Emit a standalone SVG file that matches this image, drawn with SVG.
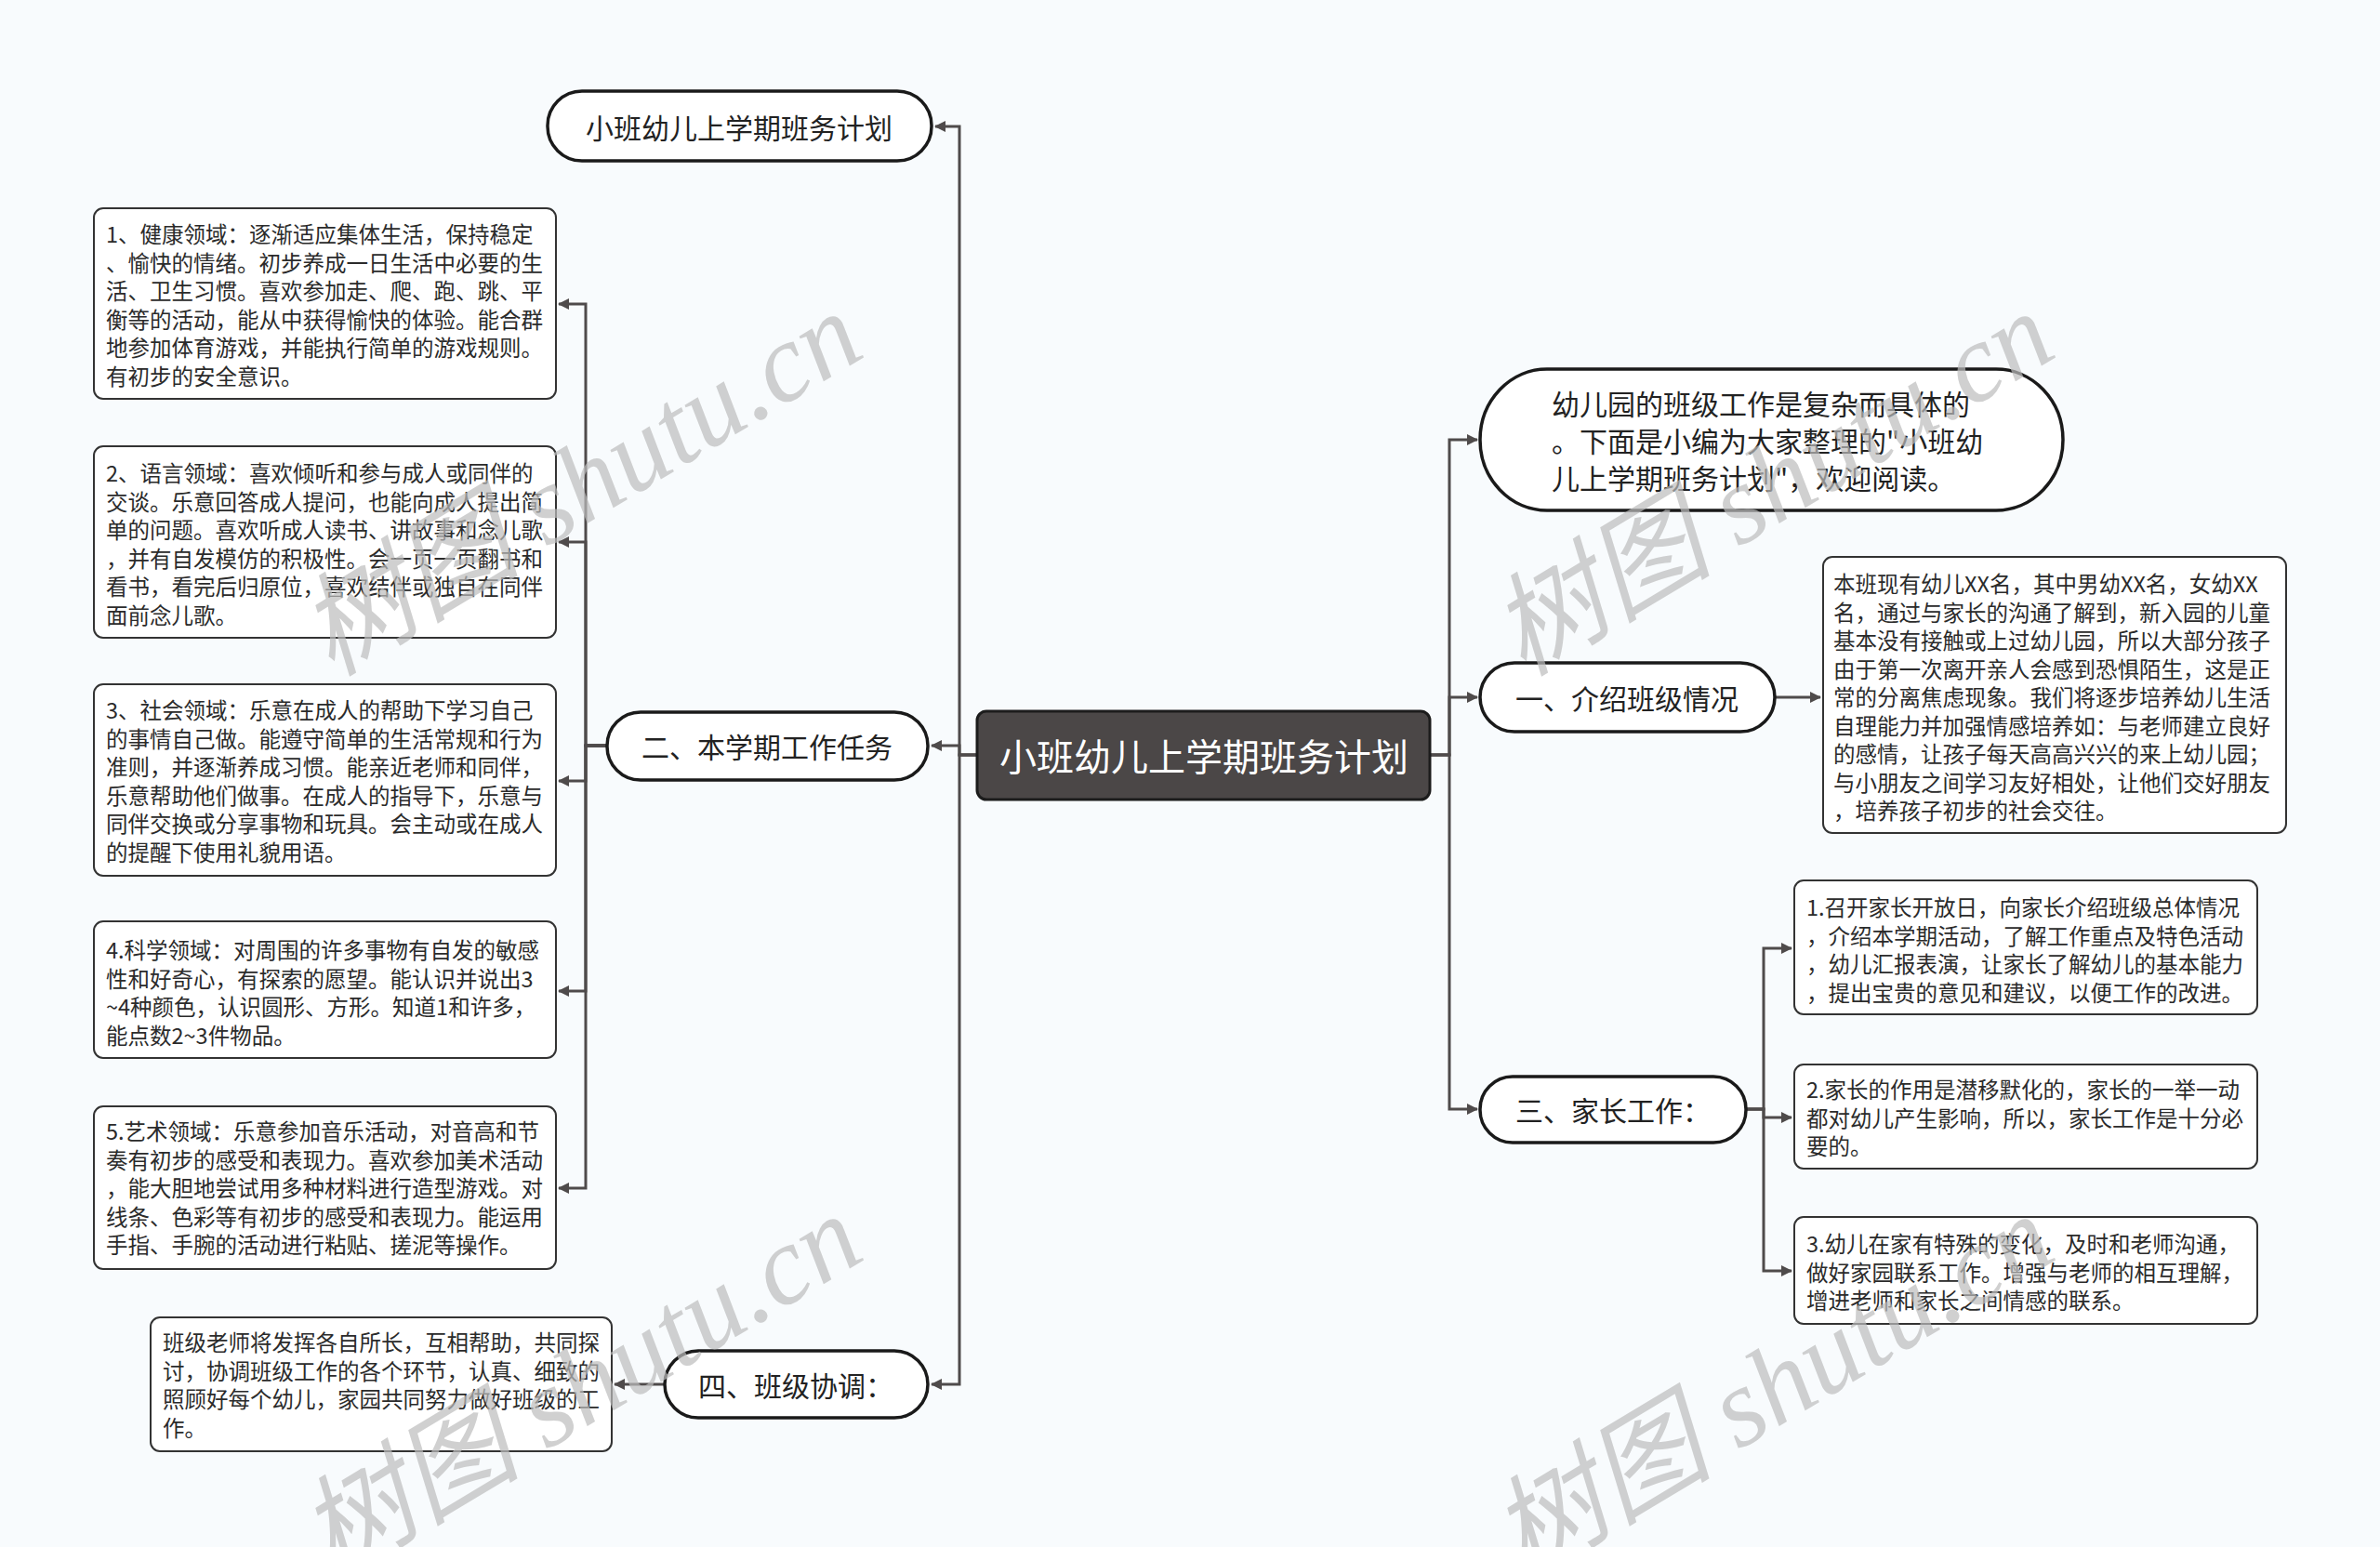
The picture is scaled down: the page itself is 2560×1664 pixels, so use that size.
<svg xmlns="http://www.w3.org/2000/svg" width="2560" height="1664" viewBox="0 0 2560 1664">
<defs>
<marker id="arr" viewBox="0 0 12 12" refX="11" refY="6" markerWidth="12" markerHeight="12" markerUnits="userSpaceOnUse" orient="auto">
<path d="M0,0 L12,6 L0,12 z" fill="#4f4b4b"/>
</marker>
<style>
.conn{fill:none;stroke:#4f4b4b;stroke-width:3}
.box{fill:#fff;stroke:#333;stroke-width:2}
.pill{fill:#fff;stroke:#1a1a1a;stroke-width:3.5}
.rootbox{fill:#4b4747;stroke:#1c1c1c;stroke-width:3}
text{font-family:"Noto Sans CJK SC","Noto Sans",sans-serif;dominant-baseline:central}
.tl{font-size:23.5px;fill:#2b2b2b}
.tp{font-size:30px;fill:#222}
.tr{font-size:40px;fill:#fff}
.wm{font-family:"Liberation Serif","Noto Sans CJK SC",serif;font-style:italic;font-size:120px;fill:#bdbdbd;opacity:0.7;dominant-baseline:auto}
</style>
</defs>
<rect width="2560" height="1664" fill="#f8fbfd"/>

<g id="connectors">
<path class="conn" marker-end="url(#arr)" d="M1051 812 H1032 V136 H1006"/>
<path class="conn" marker-end="url(#arr)" d="M1051 812 H1032 V802 H1002"/>
<path class="conn" marker-end="url(#arr)" d="M1051 812 H1032 V1489 H1002"/>
<path class="conn" marker-end="url(#arr)" d="M653 802 H630 V327 H601"/>
<path class="conn" marker-end="url(#arr)" d="M653 802 H630 V583 H601"/>
<path class="conn" marker-end="url(#arr)" d="M653 802 H630 V840 H601"/>
<path class="conn" marker-end="url(#arr)" d="M653 802 H630 V1066 H601"/>
<path class="conn" marker-end="url(#arr)" d="M653 802 H630 V1278 H601"/>
<path class="conn" marker-end="url(#arr)" d="M715 1489 H661"/>
<path class="conn" marker-end="url(#arr)" d="M1538 812 H1559 V473 H1589"/>
<path class="conn" marker-end="url(#arr)" d="M1538 812 H1559 V750 H1589"/>
<path class="conn" marker-end="url(#arr)" d="M1538 812 H1559 V1193 H1589"/>
<path class="conn" marker-end="url(#arr)" d="M1909 750 H1958"/>
<path class="conn" marker-end="url(#arr)" d="M1878 1193 H1897 V1020 H1927"/>
<path class="conn" marker-end="url(#arr)" d="M1878 1193 H1897 V1202 H1927"/>
<path class="conn" marker-end="url(#arr)" d="M1878 1193 H1897 V1367 H1927"/>
</g>

<g id="root">
<rect class="rootbox" x="1051" y="765" width="487" height="95" rx="10"/>
<text class="tr" x="1295" y="812" text-anchor="middle">小班幼儿上学期班务计划</text>
</g>

<g id="n-title">
<rect class="pill" x="589" y="98" width="413" height="75" rx="37"/>
<text class="tp" x="795" y="136" text-anchor="middle">小班幼儿上学期班务计划</text>
</g>

<g id="n-task">
<rect class="pill" x="653" y="766" width="345" height="73" rx="36"/>
<text class="tp" x="825" y="802" text-anchor="middle">二、本学期工作任务</text>
</g>

<g id="n-coord">
<rect class="pill" x="715" y="1453" width="283" height="72" rx="36"/>
<text class="tp" x="856" y="1489" text-anchor="middle">四、班级协调：</text>
</g>

<g id="n-intro">
<rect class="pill" x="1592" y="397" width="627" height="152" rx="72" ry="76"/>
<text class="tp"><tspan x="1669" y="433">幼儿园的班级工作是复杂而具体的</tspan><tspan x="1669" y="473">。下面是小编为大家整理的"小班幼</tspan><tspan x="1669" y="513">儿上学期班务计划"，欢迎阅读。</tspan></text>
</g>

<g id="n-class">
<rect class="pill" x="1592" y="713" width="317" height="74" rx="37"/>
<text class="tp" x="1750" y="750" text-anchor="middle">一、介绍班级情况</text>
</g>

<g id="n-parent">
<rect class="pill" x="1592" y="1158" width="286" height="71" rx="35"/>
<text class="tp" x="1735" y="1193" text-anchor="middle">三、家长工作：</text>
</g>

<g id="leaf-1">
<rect class="box" x="101" y="224" width="497" height="205" rx="10"/>
<text class="tl"><tspan x="114" y="251">1、健康领域：逐渐适应集体生活，保持稳定</tspan><tspan x="114" y="281.5">、愉快的情绪。初步养成一日生活中必要的生</tspan><tspan x="114" y="312">活、卫生习惯。喜欢参加走、爬、跑、跳、平</tspan><tspan x="114" y="342.5">衡等的活动，能从中获得愉快的体验。能合群</tspan><tspan x="114" y="373">地参加体育游戏，并能执行简单的游戏规则。</tspan><tspan x="114" y="403.5">有初步的安全意识。</tspan></text>
</g>

<g id="leaf-2">
<rect class="box" x="101" y="480" width="497" height="206" rx="10"/>
<text class="tl"><tspan x="114" y="508">2、语言领域：喜欢倾听和参与成人或同伴的</tspan><tspan x="114" y="538.5">交谈。乐意回答成人提问，也能向成人提出简</tspan><tspan x="114" y="569">单的问题。喜欢听成人读书、讲故事和念儿歌</tspan><tspan x="114" y="599.5">，并有自发模仿的积极性。会一页一页翻书和</tspan><tspan x="114" y="630">看书，看完后归原位，喜欢结伴或独自在同伴</tspan><tspan x="114" y="660.5">面前念儿歌。</tspan></text>
</g>

<g id="leaf-3">
<rect class="box" x="101" y="736" width="497" height="206" rx="10"/>
<text class="tl"><tspan x="114" y="763">3、社会领域：乐意在成人的帮助下学习自己</tspan><tspan x="114" y="793.5">的事情自己做。能遵守简单的生活常规和行为</tspan><tspan x="114" y="824">准则，并逐渐养成习惯。能亲近老师和同伴，</tspan><tspan x="114" y="854.5">乐意帮助他们做事。在成人的指导下，乐意与</tspan><tspan x="114" y="885">同伴交换或分享事物和玩具。会主动或在成人</tspan><tspan x="114" y="915.5">的提醒下使用礼貌用语。</tspan></text>
</g>

<g id="leaf-4">
<rect class="box" x="101" y="991" width="497" height="147" rx="10"/>
<text class="tl"><tspan x="114" y="1021">4.科学领域：对周围的许多事物有自发的敏感</tspan><tspan x="114" y="1051.5">性和好奇心，有探索的愿望。能认识并说出3</tspan><tspan x="114" y="1082">~4种颜色，认识圆形、方形。知道1和许多，</tspan><tspan x="114" y="1112.5">能点数2~3件物品。</tspan></text>
</g>

<g id="leaf-5">
<rect class="box" x="101" y="1190" width="497" height="175" rx="10"/>
<text class="tl"><tspan x="114" y="1216">5.艺术领域：乐意参加音乐活动，对音高和节</tspan><tspan x="114" y="1246.5">奏有初步的感受和表现力。喜欢参加美术活动</tspan><tspan x="114" y="1277">，能大胆地尝试用多种材料进行造型游戏。对</tspan><tspan x="114" y="1307.5">线条、色彩等有初步的感受和表现力。能运用</tspan><tspan x="114" y="1338">手指、手腕的活动进行粘贴、搓泥等操作。</tspan></text>
</g>

<g id="leaf-coord">
<rect class="box" x="162" y="1417" width="496" height="144" rx="10"/>
<text class="tl"><tspan x="175" y="1443">班级老师将发挥各自所长，互相帮助，共同探</tspan><tspan x="175" y="1473.5">讨，协调班级工作的各个环节，认真、细致的</tspan><tspan x="175" y="1504">照顾好每个幼儿，家园共同努力做好班级的工</tspan><tspan x="175" y="1534.5">作。</tspan></text>
</g>

<g id="leaf-class">
<rect class="box" x="1961" y="599" width="498" height="297" rx="10"/>
<text class="tl"><tspan x="1972" y="627">本班现有幼儿XX名，其中男幼XX名，女幼XX</tspan><tspan x="1972" y="657.5">名，通过与家长的沟通了解到，新入园的儿童</tspan><tspan x="1972" y="688">基本没有接触或上过幼儿园，所以大部分孩子</tspan><tspan x="1972" y="718.5">由于第一次离开亲人会感到恐惧陌生，这是正</tspan><tspan x="1972" y="749">常的分离焦虑现象。我们将逐步培养幼儿生活</tspan><tspan x="1972" y="779.5">自理能力并加强情感培养如：与老师建立良好</tspan><tspan x="1972" y="810">的感情，让孩子每天高高兴兴的来上幼儿园；</tspan><tspan x="1972" y="840.5">与小朋友之间学习友好相处，让他们交好朋友</tspan><tspan x="1972" y="871">，培养孩子初步的社会交往。</tspan></text>
</g>

<g id="leaf-p1">
<rect class="box" x="1930" y="947" width="498" height="144" rx="10"/>
<text class="tl"><tspan x="1943" y="975">1.召开家长开放日，向家长介绍班级总体情况</tspan><tspan x="1943" y="1005.5">，介绍本学期活动，了解工作重点及特色活动</tspan><tspan x="1943" y="1036">，幼儿汇报表演，让家长了解幼儿的基本能力</tspan><tspan x="1943" y="1066.5">，提出宝贵的意见和建议，以便工作的改进。</tspan></text>
</g>

<g id="leaf-p2">
<rect class="box" x="1930" y="1145" width="498" height="112" rx="10"/>
<text class="tl"><tspan x="1943" y="1171">2.家长的作用是潜移默化的，家长的一举一动</tspan><tspan x="1943" y="1201.5">都对幼儿产生影响，所以，家长工作是十分必</tspan><tspan x="1943" y="1232">要的。</tspan></text>
</g>

<g id="leaf-p3">
<rect class="box" x="1930" y="1309" width="498" height="115" rx="10"/>
<text class="tl"><tspan x="1943" y="1337">3.幼儿在家有特殊的变化，及时和老师沟通，</tspan><tspan x="1943" y="1367.5">做好家园联系工作。增强与老师的相互理解，</tspan><tspan x="1943" y="1398">增进老师和家长之间情感的联系。</tspan></text>
</g>

<g id="watermark">
<text class="wm" x="645" y="555" text-anchor="middle" transform="rotate(-31 645 555)">树图 shutu.cn</text>
<text class="wm" x="1927" y="555" text-anchor="middle" transform="rotate(-31 1927 555)">树图 shutu.cn</text>
<text class="wm" x="645" y="1526" text-anchor="middle" transform="rotate(-31 645 1526)">树图 shutu.cn</text>
<text class="wm" x="1927" y="1526" text-anchor="middle" transform="rotate(-31 1927 1526)">树图 shutu.cn</text>
</g>
</svg>
